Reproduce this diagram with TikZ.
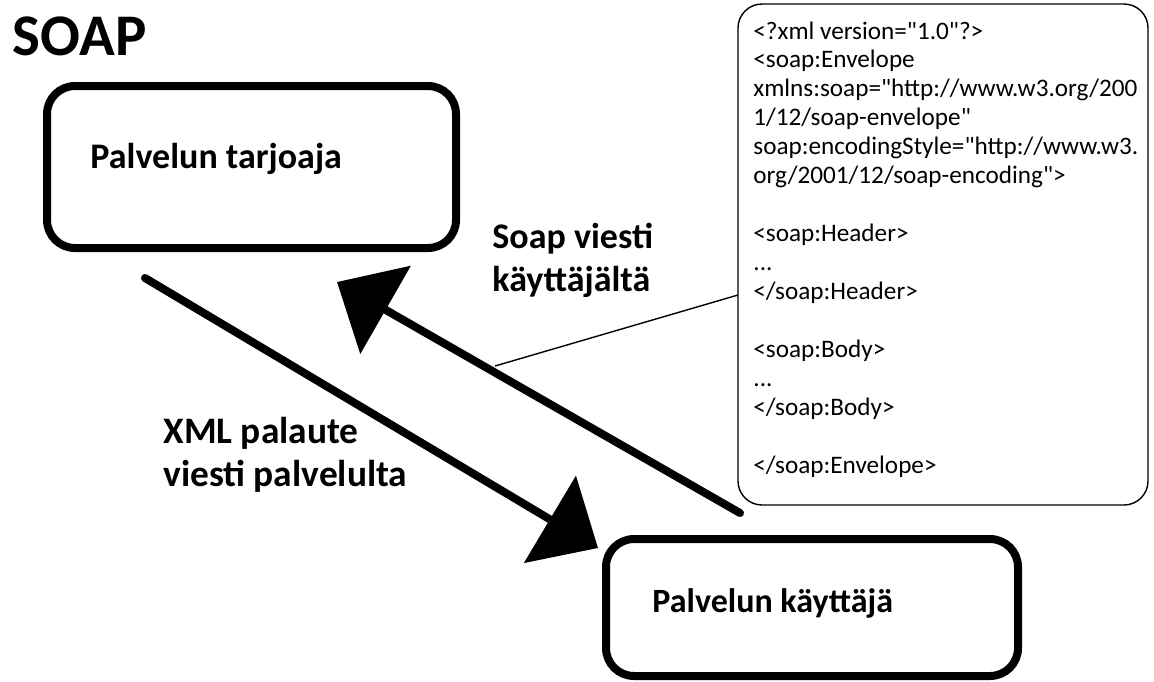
\documentclass[tikz,border=0pt]{standalone}
\usepackage{fontspec}
\setmainfont{Carlito}
\newfontfamily\xmlfont{Carlito}[Ligatures=TeXOff]
\usetikzlibrary{arrows.meta}

\begin{document}
\begin{tikzpicture}[
    x=0.5pt, y=-0.5pt,
    laatikko/.style={draw, line width=4pt, rounded corners=14pt, inner sep=0pt},
    otsikko/.style={font=\bfseries\fontsize{18}{21.5}\selectfont, anchor=base west, inner sep=0pt},
    nuoli/.style={line width=4pt, line cap=round, -{Triangle[width=50pt, length=28pt]}},
    koodi/.style={font=\xmlfont\fontsize{12.6}{14.47}\selectfont, anchor=base west, inner sep=0pt}
  ]
    \useasboundingbox (0,0) rectangle (1154,681);

    % --- OTSIKKO ---
    \node[font=\bfseries\fontsize{29.5}{32}\selectfont, anchor=base west, inner sep=0pt] (soap) at (12,55) {SOAP};

    % --- LAATIKOT ---
    \node[laatikko, minimum width=204.5pt, minimum height=81pt] (tarjoaja) at (251.5,167) {};
    \node[otsikko] (tarjoajateksti) at (90,168) {Palvelun tarjoaja};

    \node[laatikko, minimum width=206pt, minimum height=68.5pt] (kayttaja) at (812,607.5) {};
    \node[otsikko, font=\bfseries\fontsize{17}{21.5}\selectfont] (kayttajateksti) at (652,612) {Palvelun käyttäjä};

    % --- SOAP-VIESTI (kupla) ---
    \node[draw, line width=0.7pt, rounded corners=12pt, minimum width=205pt, minimum height=250.5pt, inner sep=0pt] (xml) at (943,254.5) {};
    \node[koodi] (xmlteksti) at (753,39) {\parbox[t]{200pt}{%
        <?xml version="1.0"?>\\
        <soap:Envelope\\
        xmlns:soap="http://www.w3.org/200\\
        1/12/soap-envelope"\\
        soap:encodingStyle="http://www.w3.\\
        org/2001/12/soap-encoding">\\
        \mbox{}\\
        <soap:Header>\\
        ...\\
        </soap:Header>\\
        \mbox{}\\
        <soap:Body>\\
        ...\\
        </soap:Body>\\
        \mbox{}\\
        </soap:Envelope>}};

    % --- NUOLET ---
    \coordinate (palauteAlku) at (145,278);
    \coordinate (palauteKarki) at (598,548);
    \coordinate (viestiAlku) at (740,513);
    \coordinate (viestiKarki) at (337,282);
    \draw[nuoli] (palauteAlku) -- (palauteKarki);
    \draw[nuoli] (viestiAlku) -- (viestiKarki);

    % ohut viiva nuolesta kuplaan
    \coordinate (liitos) at (495,366);
    \coordinate (xmlliitos) at (738,295);
    \draw[line width=0.7pt] (liitos) -- (xmlliitos);

    % --- NUOLTEN TEKSTIT ---
    \node[otsikko] (viestiteksti) at (492,248) {\parbox[t]{170pt}{Soap viesti\\käyttäjältä}};
    \node[otsikko, font=\bfseries\fontsize{18.7}{21.5}\selectfont] (palauteteksti) at (163,443) {\parbox[t]{170pt}{XML palaute\\viesti palvelulta}};

\end{tikzpicture}
\end{document}
